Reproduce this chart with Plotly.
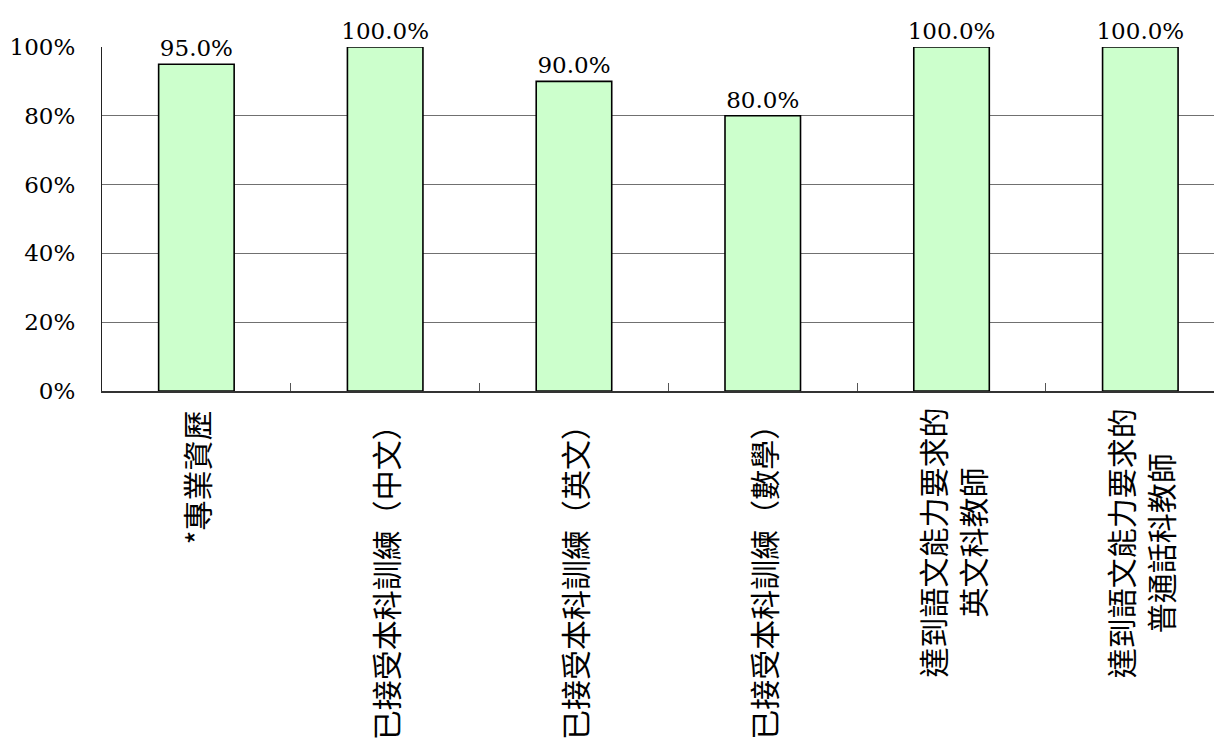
import plotly.graph_objects as go

categories = ["*專業資歷", "已接受本科訓練（中文）", "已接受本科訓練（英文）",
              "已接受本科訓練（數學）", "達到語文能力要求的<br>英文科教師",
              "達到語文能力要求的<br>普通話科教師"]
values = [0.95, 1.00, 0.90, 0.80, 1.00, 1.00]
value_labels = ["95.0%", "100.0%", "90.0%", "80.0%", "100.0%", "100.0%"]
y_ticks = [0, 0.2, 0.4, 0.6, 0.8, 1.0]
y_tick_labels = ["0%", "20%", "40%", "60%", "80%", "100%"]

serif = "DejaVu Serif"
cjk = "Noto Sans CJK TC"
cjk_size = 30
line_gap = 40

fig = go.Figure()
fig.add_trace(go.Bar(
    x=categories, y=values,
    marker=dict(color="#CCFFCC", line=dict(color="black", width=1.6)),
    text=value_labels, textposition="outside", cliponaxis=False,
    constraintext="none",
    textfont=dict(family=serif, size=23, color="black"),
    hoverinfo="skip",
))

for c in categories:
    lines = c.split("<br>")
    n = len(lines)
    longest = max(len(l) for l in lines)
    for i, line in enumerate(lines):
        if n == 1:
            fig.add_annotation(
                x=c, xref="x", y=0, yref="paper", text=line, textangle=-90,
                showarrow=False, xanchor="center", yanchor="top", yshift=-17,
                font=dict(family=cjk, size=cjk_size, color="black"),
            )
        else:
            fig.add_annotation(
                x=c, xref="x", y=0, yref="paper", text=line, textangle=-90,
                showarrow=False, xanchor="center", yanchor="middle",
                xshift=(i - (n - 1) / 2) * line_gap,
                yshift=-17 - longest * cjk_size / 2,
                font=dict(family=cjk, size=cjk_size, color="black"),
            )

fig.update_layout(
    width=1222, height=744,
    margin=dict(l=94, r=0, t=39, b=361),
    paper_bgcolor="white", plot_bgcolor="white",
    showlegend=False, bargap=0.6,
    xaxis=dict(
        type="category", range=[-0.5, 5.475],
        showticklabels=False, tickson="boundaries",
        ticks="inside", ticklen=8, tickcolor="#555555", tickwidth=1,
        showline=True, linecolor="#333333", linewidth=1.5,
        showgrid=False, zeroline=False,
    ),
    yaxis=dict(
        range=[0, 1], tickvals=y_ticks, ticktext=y_tick_labels,
        tickfont=dict(family=serif, size=23, color="black"),
        ticks="", ticklabelstandoff=21,
        showgrid=True, gridcolor="#707070", gridwidth=1.2,
        showline=True, linecolor="#222222", linewidth=1.2,
        zeroline=False,
    ),
)

fig.write_html("out.html")
